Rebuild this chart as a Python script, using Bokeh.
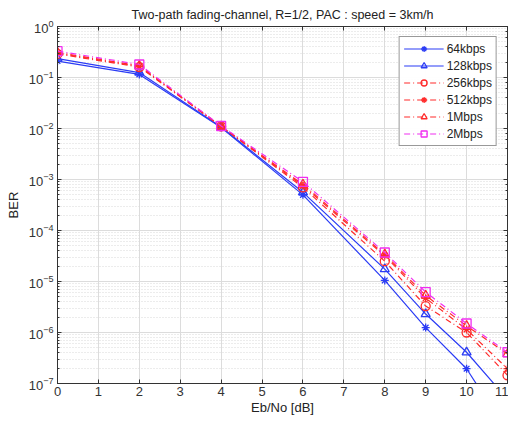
from bokeh.plotting import figure
from bokeh.models import (Range1d, LinearAxis, FixedTicker, Legend, LegendItem,
                          CustomJSTickFormatter, LogTicker)
from bokeh.embed import file_html
from bokeh.resources import INLINE

ebno = [0, 2, 4, 6, 8, 9, 10, 11]
ber_64k = [0.21, 0.115, 0.0105, 5.0e-4, 1.05e-5, 1.25e-6, 1.95e-7, 1.1e-8]
ber_128k = [0.235, 0.125, 0.0107, 5.6e-4, 1.75e-5, 2.3e-6, 4.1e-7, 4.9e-8]
ber_256k = [0.29, 0.16, 0.011, 7.0e-4, 2.5e-5, 3.3e-6, 1.0e-6, 1.45e-7]
ber_512k = [0.30, 0.165, 0.011, 7.5e-4, 3.2e-5, 4.7e-6, 1.15e-6, 1.95e-7]
ber_1M = [0.31, 0.17, 0.011, 8.0e-4, 3.4e-5, 5.3e-6, 1.35e-6, 3.8e-7]
ber_2M = [0.33, 0.18, 0.0112, 9.0e-4, 3.7e-5, 6.2e-6, 1.5e-6, 4.1e-7]
labels = ["64kbps", "128kbps", "256kbps", "512kbps", "1Mbps", "2Mbps"]
x_ticks = list(range(0, 12))

FONT = "Liberation Sans"
BLUE = "#2b3cf5"
RED = "#ff2a2a"
MAG = "#f02ef0"

p = figure(width=508, height=417,
           y_axis_type="log", output_backend="svg", toolbar_location=None,
           x_range=Range1d(0, 11), y_range=Range1d(1e-7, 1),
           title="Two-path fading-channel, R=1/2, PAC : speed = 3km/h",
           min_border_left=57, min_border_right=1, min_border_top=16, min_border_bottom=30)
p.title.align = "center"
p.title.text_font = FONT
p.title.text_font_size = "12.5px"
p.title.text_font_style = "normal"
p.title.text_color = "#222222"
p.outline_line_color = "#333333"

for ax in [p.xaxis[0], p.yaxis[0]]:
    ax.major_tick_in = 4
    ax.major_tick_out = 0
    ax.minor_tick_in = 2
    ax.minor_tick_out = 0
    ax.axis_line_color = "#333333"
    ax.major_tick_line_color = "#333333"
    ax.minor_tick_line_color = "#333333"
    ax.major_label_text_font = FONT
    ax.major_label_text_font_size = "13px"
    ax.major_label_text_color = "#333333"
    ax.axis_label_text_font = FONT
    ax.axis_label_text_font_size = "13px"
    ax.axis_label_text_font_style = "normal"
    ax.axis_label_text_color = "#222222"

p.xaxis.ticker = FixedTicker(ticks=x_ticks)
p.xaxis.minor_tick_line_color = None
p.xaxis.axis_label = "Eb/No [dB]"
p.yaxis.axis_label = "BER"
p.yaxis.major_label_standoff = 4
p.xaxis.major_label_standoff = 3
p.xaxis.axis_label_standoff = 1

# top and right box axes with inward ticks, no labels
top = LinearAxis(ticker=FixedTicker(ticks=x_ticks), formatter=CustomJSTickFormatter(code="return ''"),
                 major_tick_in=4, major_tick_out=0, minor_tick_line_color=None,
                 major_label_standoff=0, major_label_text_font_size="1px",
                 axis_line_color="#333333", major_tick_line_color="#333333")
p.add_layout(top, "above")
right = LinearAxis(ticker=LogTicker(), formatter=CustomJSTickFormatter(code="return ''"),
                   major_tick_in=4, major_tick_out=0, minor_tick_in=2, minor_tick_out=0,
                   major_label_standoff=0, major_label_text_font_size="1px",
                   axis_line_color="#333333", major_tick_line_color="#333333",
                   minor_tick_line_color="#333333")
p.add_layout(right, "right")

p.xgrid.ticker = FixedTicker(ticks=x_ticks)
p.xgrid.grid_line_color = "#dcdcdc"
p.ygrid.grid_line_color = "#dcdcdc"
p.ygrid.minor_grid_line_color = "#d8d8d8"
p.ygrid.minor_grid_line_dash = "1 2"

series = [
    (ber_64k, BLUE, "solid", "asterisk"),
    (ber_128k, BLUE, "solid", "triangle"),
    (ber_256k, RED, "dashdot", "circle"),
    (ber_512k, RED, "dashdot", "asterisk"),
    (ber_1M, RED, "dashdot", "triangle"),
    (ber_2M, MAG, "dashdot", "square"),
]
items = []
for (vals, col, dash, mk), lab in zip(series, labels):
    d = "solid" if dash == "solid" else "6 3 1 3"
    r1 = p.line(ebno, vals, line_color=col, line_width=1.2, line_dash=d)
    r2 = p.scatter(ebno, vals, marker=mk, size=9 if mk != "asterisk" else 8,
                   line_color=col, fill_color=None, line_width=1.3)
    items.append(LegendItem(label=lab, renderers=[r1, r2]))

leg = Legend(items=items, location="top_right")
leg.label_text_font = FONT
leg.label_text_font_size = "12px"
leg.label_text_color = "#222222"
leg.glyph_width = 40
leg.glyph_height = 15
leg.label_height = 15
leg.spacing = 2
leg.padding = 4
leg.margin = 10
leg.label_standoff = 3
leg.border_line_color = "#333333"
leg.border_line_width = 1
p.add_layout(leg)

open("out.html", "w").write(file_html(p, INLINE))
